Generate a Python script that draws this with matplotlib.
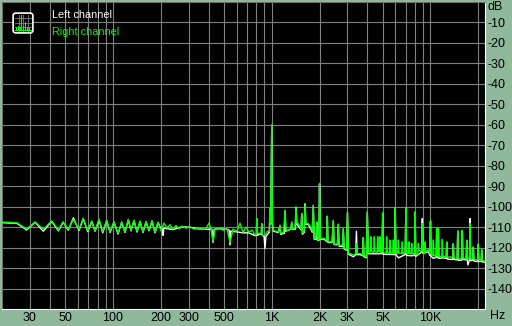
import matplotlib
matplotlib.use("Agg")
import matplotlib.pyplot as plt
from matplotlib.patches import FancyBboxPatch

plt.rcParams['font.family'] = ['Liberation Sans', 'DejaVu Sans']

# --- data (Hz, dB) ---
right_freq = [20, 22, 24.9, 28.6, 32.3, 36.4, 41.1, 45.3, 48.5, 52.3, 56.3, 61.1, 65.0, 69.3,
              73.5, 77.1, 81.7, 86.2, 91.3, 95.8, 101.5, 107.6, 113.5, 119.1, 124.9, 129.9,
              135.7, 141.7, 148.0, 154.6, 161.5, 168.7, 176.2, 184.0, 192.2, 200.7, 209.7,
              219, 228.8, 239, 249.7, 260.6, 272.2, 288.4, 305.8, 324, 343.3, 363.8, 385.5,
              402.8, 414.6, 426.9, 439.4, 465.6, 493.4, 522.8, 546, 570.2, 604, 631, 659,
              688.6, 719, 751, 785, 800, 805, 812, 844, 860, 865, 872, 907, 940, 970, 975,
              985, 1000, 1010, 1025, 1060, 1100, 1128, 1140, 1190, 1213, 1230, 1272, 1320,
              1337, 1350, 1400, 1422, 1440, 1471, 1530, 1545, 1560, 1600, 1621, 1640, 1700,
              1760, 1800, 1828, 1850, 1890, 1920, 1945, 1980, 2000, 2025, 2150, 2220, 2240,
              2260, 2400, 2444, 2470, 2590, 2627, 2660, 2790, 2824, 2860, 2960, 3000, 3040,
              3150, 3266, 3380, 3416, 3450, 3598, 3740, 3776, 3810, 3940, 4000, 4060, 4180,
              4220, 4260, 4390, 4426, 4470, 4610, 4652, 4700, 4770, 4808, 4850, 4950, 5000,
              5050, 5250, 5300, 5350, 5510, 5560, 5610, 5780, 5834, 5890, 5950, 6000, 6060,
              6220, 6272, 6330, 6590, 6646, 6700, 6930, 7000, 7070, 7260, 7326, 7390, 7550,
              7618, 7680, 7930, 8000, 8080, 8310, 8384, 8460, 8800, 8884, 8960, 9160, 9238,
              9320, 9700, 9900, 10000, 10100, 10340, 10424, 10520, 10860, 10946, 11050,
              11120, 11206, 11300, 11780, 11874, 11970, 12550, 12658, 12770, 13300, 13800,
              13932, 14050, 14720, 14846, 14970, 15740, 15870, 16000, 16780, 16916, 17060,
              17600, 17746, 17900, 18470, 18620, 18780, 19840, 20000, 20160, 20850, 21020,
              21200, 22050]
right_db = [-107.6, -107.6, -107.9, -111.0, -107.5, -111.1, -106.9, -111.5, -107.4, -111.1,
            -106.2, -111.1, -105.7, -111.8, -107.0, -111.8, -106.2, -112.3, -106.6, -112.3,
            -107.4, -113.1, -107.4, -112.3, -106.2, -111.5, -106.6, -112.0, -107.0, -112.3,
            -107.2, -111.5, -106.8, -112.5, -107.5, -111.8, -108.0, -110.5, -108.8, -111.0,
            -109.2, -110.8, -109.5, -110.5, -109.8, -111.0, -110.5, -111.2, -110.8, -108.0,
            -111.0, -117.0, -111.0, -110.5, -111.5, -110.8, -117.5, -111.0, -112.0, -108.0,
            -112.5, -110.0, -112.5, -111.5, -113.9, -113.5, -105.7, -113.0, -113.0, -113.0,
            -108.2, -114.0, -114.0, -112.0, -112.0, -100.8, -108.0, -60.0, -108.0, -111.5,
            -112.0, -112.3, -109.0, -113.1, -112.5, -101.7, -111.5, -111.5, -110.6, -107.4,
            -110.6, -110.6, -100.0, -108.2, -108.2, -111.0, -103.3, -113.1, -112.0, -98.4,
            -108.2, -108.2, -110.0, -112.0, -99.2, -115.5, -115.5, -107.4, -116.3, -116.3,
            -88.6, -115.5, -115.5, -116.5, -104.6, -117.2, -117.2, -106.6, -118.3, -118.3,
            -108.5, -118.8, -119.0, -110.6, -120.4, -120.8, -102.5, -122.9, -123.0, -123.7,
            -123.0, -118.0, -123.0, -122.9, -123.5, -115.0, -124.0, -124.5, -102.5, -122.5,
            -122.0, -114.7, -122.0, -122.3, -114.7, -122.0, -122.5, -114.7, -122.0, -122.0,
            -114.7, -122.3, -122.0, -103.0, -122.5, -122.8, -114.7, -122.5, -122.8, -116.3,
            -123.0, -122.5, -116.3, -123.0, -122.6, -100.3, -122.8, -123.0, -116.3, -122.5,
            -123.0, -117.2, -123.0, -122.6, -100.3, -123.0, -122.8, -117.2, -123.0, -123.2,
            -118.0, -123.0, -123.0, -102.5, -123.5, -123.4, -118.0, -121.5, -121.5, -108.2,
            -122.0, -123.0, -117.2, -122.0, -121.0, -123.0, -106.9, -123.5, -124.0, -116.3,
            -124.0, -124.0, -110.6, -124.2, -124.0, -110.6, -124.5, -124.3, -116.0, -124.3,
            -124.5, -117.2, -124.8, -124.5, -125.0, -118.0, -125.0, -125.2, -111.8, -125.5,
            -125.3, -111.5, -125.0, -125.5, -116.3, -125.3, -125.3, -108.2, -125.6, -125.5,
            -119.6, -125.8, -126.0, -118.3, -126.0, -126.0, -120.9, -126.3, -126.5]

left_freq = [20, 24.9, 28.6, 32.3, 36.4, 41.1, 45.3, 48.5, 52.3, 56.3, 61.1, 65.0, 69.3, 73.5,
             77.1, 81.7, 86.2, 91.3, 95.8, 101.5, 107.6, 113.5, 119.1, 124.9, 129.9, 135.7,
             141.7, 148.0, 154.6, 161.5, 168.7, 176.2, 184.0, 192.2, 200, 205, 207, 209,
             239, 272, 305.8, 343.3, 385.5, 420, 427, 434, 465.6, 522.8, 540, 546, 552, 604,
             659, 719, 785, 800, 805, 812, 844, 860, 865, 872, 895, 907, 920, 965, 975, 985,
             1000, 1010, 1025, 1100, 1128, 1140, 1200, 1213, 1226, 1320, 1337, 1350, 1410,
             1422, 1440, 1530, 1545, 1560, 1605, 1621, 1640, 1700, 1800, 1828, 1850, 1910,
             1920, 1945, 1985, 2000, 2025, 2150, 2220, 2240, 2260, 2400, 2444, 2470, 2590,
             2627, 2660, 2790, 2824, 2860, 2960, 3000, 3040, 3150, 3266, 3380, 3416, 3450,
             3598, 3740, 3776, 3810, 3940, 4000, 4060, 4950, 5000, 5050, 5940, 6000, 6060,
             6300, 6930, 7000, 7070, 7600, 7930, 8000, 8080, 8800, 8884, 8960, 9700, 9900,
             10000, 10100, 10400, 10860, 10946, 11050, 11120, 11206, 11300, 12000, 12550,
             12658, 12770, 13800, 13932, 14050, 14720, 14846, 14970, 15740, 15870, 16000,
             16780, 16916, 17060, 17200, 17600, 17746, 17900, 18470, 18620, 18780, 19840,
             20000, 20160, 20850, 21020, 21200, 22050]
left_db = [-107.8, -108.2, -111.4, -107.6, -112.0, -107.2, -111.8, -107.6, -111.5, -105.5,
           -111.6, -105.9, -112.2, -107.3, -112.0, -106.5, -112.8, -106.9, -112.6, -107.6,
           -113.4, -107.7, -112.6, -106.5, -111.8, -106.9, -112.4, -107.3, -112.6, -107.5,
           -111.8, -107.1, -112.8, -107.8, -110.5, -110.5, -114.0, -110.5, -111.2, -109.8,
           -110.1, -110.8, -111.1, -111.0, -117.5, -111.0, -110.8, -111.1, -111.5, -118.7,
           -112.0, -112.3, -112.8, -112.8, -114.2, -114.0, -106.0, -114.0, -113.3, -113.5,
           -108.5, -114.0, -114.5, -120.4, -114.5, -112.5, -101.0, -108.5, -60.5, -108.5,
           -112.0, -112.6, -109.3, -113.5, -113.0, -102.0, -112.0, -111.0, -107.7, -111.0,
           -111.0, -100.3, -108.6, -111.3, -103.6, -113.5, -112.5, -98.7, -108.6, -108.6,
           -112.5, -99.5, -115.8, -116.0, -107.7, -116.5, -116.5, -89.0, -116.0, -116.0,
           -117.0, -104.9, -117.5, -117.5, -106.9, -118.5, -118.6, -108.8, -119.3, -119.5,
           -110.9, -120.8, -121.2, -102.8, -123.2, -123.8, -124.5, -123.5, -112.0, -123.5,
           -123.4, -124.0, -115.3, -124.5, -125.0, -102.8, -123.0, -123.0, -103.3, -123.3,
           -123.4, -100.6, -123.6, -125.0, -123.4, -100.6, -123.8, -124.0, -123.8, -102.8,
           -124.3, -122.2, -105.8, -122.8, -122.0, -123.8, -107.2, -124.3, -125.2, -124.8,
           -110.9, -125.0, -124.8, -110.9, -125.3, -125.0, -125.3, -117.5, -125.6, -125.8,
           -118.3, -125.8, -126.0, -112.1, -126.3, -126.1, -111.8, -125.8, -126.0, -116.6,
           -126.1, -128.5, -126.0, -105.8, -126.4, -126.2, -119.9, -126.6, -126.8, -118.6,
           -126.8, -126.8, -121.2, -127.0, -127.2]

x_grid = [30, 40, 50, 60, 70, 80, 90, 100, 200, 300, 400, 500, 600, 700, 800, 900,
          1000, 2000, 3000, 4000, 5000, 6000, 7000, 8000, 9000, 10000, 20000]
x_labels = {30: '30', 50: '50', 100: '100', 200: '200', 300: '300', 500: '500',
            1000: '1K', 2000: '2K', 3000: '3K', 5000: '5K', 10000: '10K'}
y_ticks = list(range(-10, -150, -10))

# little legend icon spikes (position, height)
icon_x = [0.18, 0.27, 0.36, 0.43, 0.52, 0.60, 0.70, 0.78]
icon_h = [0.12, 0.20, 0.15, 0.82, 0.18, 0.42, 0.12, 0.10]

BG = '#8fb99a'
W, H = 512, 326
TICK_FONT = ['Liberation Sans Narrow', 'Liberation Sans', 'DejaVu Sans']
fig = plt.figure(figsize=(W / 100, H / 100), dpi=100, facecolor=BG)

x0, x1, y0, y1 = 2, 485, 2, 309
ax = fig.add_axes([x0 / W, 1 - y1 / H, (x1 - x0) / W, (y1 - y0) / H])
ax.set_facecolor('black')
ax.set_xscale('log')
ax.set_xlim(20, 22050)
ax.set_ylim(-150, 0)

# grid
for f in x_grid:
    ax.axvline(f, color='#808080', lw=0.8, zorder=1)
for d in y_ticks:
    ax.axhline(d, color='#808080', lw=0.8, zorder=1)

ax.plot(left_freq, left_db, color='white', lw=1.0, zorder=3)
ax.plot(right_freq, right_db, color='#00ff00', lw=1.0, zorder=4)

# ticks / labels
ax.xaxis.set_minor_locator(matplotlib.ticker.NullLocator())
ax.yaxis.set_minor_locator(matplotlib.ticker.NullLocator())
ax.set_xticks(list(x_labels.keys()))
ax.set_xticklabels(list(x_labels.values()), family=TICK_FONT, fontsize=9)
ax.yaxis.tick_right()
ax.set_yticks(y_ticks)
ax.set_yticklabels([str(v) for v in y_ticks], family=TICK_FONT, fontsize=9)
ax.tick_params(axis='both', length=0, colors='black')
ax.tick_params(axis='x', pad=2)
ax.tick_params(axis='y', pad=1.5)
for lab in ax.get_yticklabels():
    lab.set_horizontalalignment('left')

for side in ['top', 'left']:
    ax.spines[side].set_color('#707070')
    ax.spines[side].set_linewidth(0.8)
for side in ['right', 'bottom']:
    ax.spines[side].set_color('white')
    ax.spines[side].set_linewidth(0.8)

fig.text(487 / W, 1 - 7 / H, 'dB', fontsize=9, family=TICK_FONT, ha='left', va='center')
fig.text(490 / W, 1 - 316 / H, 'Hz', fontsize=9, family=TICK_FONT, ha='left', va='center')

# legend
fig.text(52 / W, 1 - 15 / H, 'Left channel', fontsize=7.8, color='white', ha='left', va='center')
fig.text(52 / W, 1 - 32 / H, 'Right channel', fontsize=7.8, color='#00ff00', ha='left', va='center')

ia = fig.add_axes([12 / W, 1 - 34 / H, 22 / W, 22 / H])
ia.set_xlim(0, 1)
ia.set_ylim(0, 1)
ia.axis('off')
ia.add_patch(FancyBboxPatch((0.05, 0.05), 0.9, 0.9, boxstyle='round,pad=0,rounding_size=0.12',
                            facecolor='black', edgecolor='white', lw=1.2))
for g in [0.3, 0.5, 0.72]:
    ia.plot([g, g], [0.12, 0.88], color='#808080', lw=0.6)
    ia.plot([0.12, 0.88], [g, g], color='#808080', lw=0.6)
ia.plot([0.15, 0.85], [0.2, 0.2], color='#00ff00', lw=0.8)
for px, h in zip(icon_x, icon_h):
    ia.plot([px, px], [0.2, 0.2 + h * 0.8], color='#00ff00', lw=0.8)

fig.savefig('out.png', dpi=100, facecolor=BG)
